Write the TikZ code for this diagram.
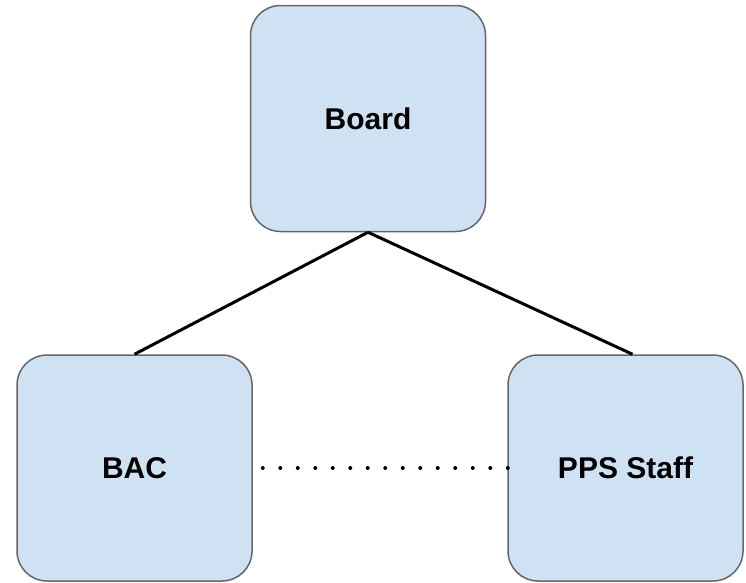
\documentclass[tikz,border=0pt]{standalone}
\usepackage{fontspec}
\setmainfont{Liberation Sans}
\definecolor{boxfill}{HTML}{CFE2F3}
\definecolor{boxline}{HTML}{666666}
\begin{document}
\begin{tikzpicture}[x=1pt,y=-1pt,
  orgbox/.style={draw=boxline, line width=1.5pt, fill=boxfill, rounded corners=30pt,
    minimum width=235pt, minimum height=226pt, inner sep=0pt,
    font=\fontsize{30}{36}\selectfont\bfseries},
  link/.style={line width=3pt, black},
  peer/.style={line width=4pt, line cap=round, dash pattern=on 0pt off 17.5pt, dash phase=7.5pt}]
\useasboundingbox (0,0) rectangle (746,582);
\node[orgbox] (board) at (368,118.5) {Board};
\node[orgbox] (bac) at (134.5,468) {BAC};
\node[orgbox] (pps) at (625.5,468) {PPS Staff};
\draw[link] (board.south) -- (bac.north);
\draw[link] (board.south) -- ([xshift=7pt]pps.north);
% dotted peer link; ends a little past the edge so the final dot is kept
\draw[peer] (bac.east) -- ([xshift=2pt]pps.west);
\end{tikzpicture}
\end{document}
